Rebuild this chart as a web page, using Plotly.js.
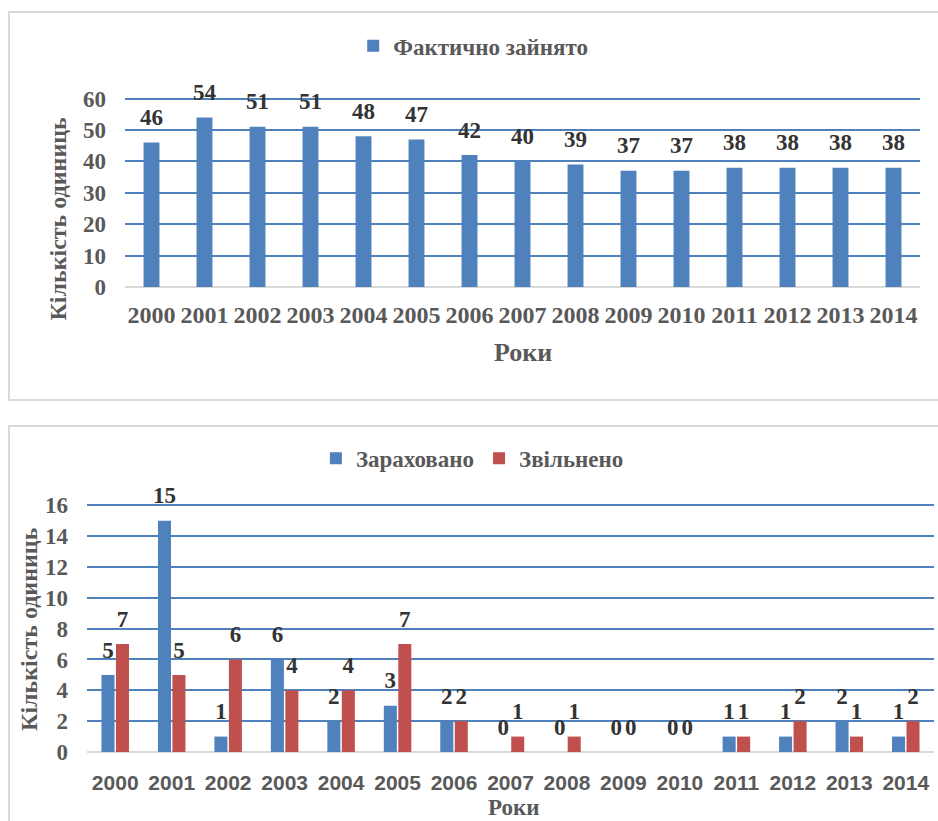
<!DOCTYPE html>
<html>
<head>
<meta charset="utf-8">
<script src="https://cdn.plot.ly/plotly-3.0.1.min.js"></script>
<style>
  html, body { margin: 0; padding: 0; background: #fff; width: 938px; height: 821px; overflow: hidden; }
  .frame { position: absolute; border: 2px solid #D9D9D9; box-sizing: border-box; }
  .plot { position: absolute; }
</style>
</head>
<body>
<div class="frame" style="left:8px; top:11px; width:960px; height:390px;"></div>
<div class="frame" style="left:8px; top:425px; width:960px; height:420px;"></div>
<div id="top" class="plot" style="left:8px; top:11px; width:940px; height:389px;"></div>
<div id="bottom" class="plot" style="left:8px; top:425px; width:940px; height:400px;"></div>
<script>
// ---- data ----
const years = ['2000','2001','2002','2003','2004','2005','2006','2007','2008','2009','2010','2011','2012','2013','2014'];
const occupied = [46, 54, 51, 51, 48, 47, 42, 40, 39, 37, 37, 38, 38, 38, 38];
const hired = [5, 15, 1, 6, 2, 3, 2, 0, 0, 0, 0, 1, 1, 2, 1];
const dismissed = [7, 5, 6, 4, 4, 7, 2, 1, 1, 0, 0, 1, 2, 1, 2];
const topSeriesName = 'Фактично зайнято';
const hiredName = 'Зараховано';
const dismissedName = 'Звільнено';
const yTitle = 'Кількість одиниць';
const xTitle = 'Роки';

// ---- styles ----
const SERIF = '"Liberation Serif", "Times New Roman", Times, serif';
const SANS = '"Liberation Sans", Arial, sans-serif';
const BLUE = '#4F81BD';
const RED = '#C0504D';
const GREY = '#595959';
const DARK = '#333333';
const catRange = [-0.5, years.length - 0.5];

function labelTrace(values, name) {
  return {
    type: 'scatter', x: years, y: values, name: name, offsetgroup: name,
    mode: 'markers+text', text: values.map(String), textposition: 'top center',
    marker: { size: 17, opacity: 0, color: 'rgba(0,0,0,0)' },
    textfont: { family: SERIF, size: 23, color: DARK, weight: 'bold' },
    cliponaxis: false, showlegend: false, hoverinfo: 'skip'
  };
}

// ---- top chart ----
const topLabels = labelTrace(occupied, 'lbl');
delete topLabels.offsetgroup;
const topData = [
  { type: 'bar', x: years, y: occupied, name: topSeriesName, marker: { color: BLUE } },
  topLabels
];
const topLayout = {
  width: 940, height: 389,
  margin: { l: 117, r: 28, t: 86, b: 113 },
  paper_bgcolor: 'rgba(0,0,0,0)', plot_bgcolor: 'rgba(0,0,0,0)',
  bargap: 0.7,
  showlegend: true,
  legend: { orientation: 'h', x: 0.438, xanchor: 'center', y: 1.27, yanchor: 'middle',
            font: { family: SERIF, size: 23, color: GREY, weight: 'bold' } },
  xaxis: { type: 'category', range: catRange, showgrid: false, zeroline: false, showline: false, ticks: '',
           ticklabelstandoff: 11,
           tickfont: { family: SERIF, size: 24, color: GREY, weight: 'bold' } },
  yaxis: { range: [0, 60.5], tickvals: [0, 10, 20, 30, 40, 50, 60], showgrid: true, gridcolor: BLUE, gridwidth: 2,
           zeroline: true, zerolinecolor: '#D9D9D9', zerolinewidth: 2, showline: false, ticks: '',
           ticklabelstandoff: 18,
           tickfont: { family: SERIF, size: 23, color: GREY, weight: 'bold' } },
  annotations: [
    { text: yTitle, xref: 'paper', yref: 'paper', x: -0.0843, y: 0.36, textangle: -90,
      showarrow: false, xanchor: 'center', yanchor: 'middle',
      font: { family: SERIF, size: 24, color: GREY, weight: 'bold' } },
    { text: xTitle, xref: 'paper', yref: 'paper', x: 0.5, y: -0.346,
      showarrow: false, xanchor: 'center', yanchor: 'middle',
      font: { family: SERIF, size: 26, color: GREY, weight: 'bold' } }
  ]
};
Plotly.newPlot('top', topData, topLayout, { staticPlot: true });

// ---- bottom chart ----
const bottomData = [
  { type: 'bar', x: years, y: hired, name: hiredName, offsetgroup: hiredName, marker: { color: BLUE } },
  { type: 'bar', x: years, y: dismissed, name: dismissedName, offsetgroup: dismissedName, marker: { color: RED } },
  labelTrace(hired, hiredName),
  labelTrace(dismissed, dismissedName)
];
const bottomLayout = {
  width: 940, height: 400,
  margin: { l: 79, r: 14, t: 78, b: 73 },
  paper_bgcolor: 'rgba(0,0,0,0)', plot_bgcolor: 'rgba(0,0,0,0)',
  barmode: 'group', bargap: 0.487, bargroupgap: 0.1,
  scattermode: 'group', scattergap: 0.487,
  showlegend: true,
  legend: { orientation: 'h', x: 0.455, xanchor: 'center', y: 1.18, yanchor: 'middle',
            font: { family: SERIF, size: 23, color: GREY, weight: 'bold' } },
  xaxis: { type: 'category', range: catRange, showgrid: false, zeroline: false, showline: false, ticks: '',
           ticklabelstandoff: 16,
           tickfont: { family: SANS, size: 21, color: GREY, weight: 'bold' } },
  yaxis: { range: [0, 16.15], tickvals: [0, 2, 4, 6, 8, 10, 12, 14, 16], showgrid: true, gridcolor: BLUE, gridwidth: 2,
           zeroline: true, zerolinecolor: '#D9D9D9', zerolinewidth: 2, showline: false, ticks: '',
           ticklabelstandoff: 18,
           tickfont: { family: SERIF, size: 23, color: GREY, weight: 'bold' } },
  annotations: [
    { text: yTitle, xref: 'paper', yref: 'paper', x: -0.0685, y: 0.494, textangle: -90,
      showarrow: false, xanchor: 'center', yanchor: 'middle',
      font: { family: SERIF, size: 24, color: GREY, weight: 'bold' } },
    { text: xTitle, xref: 'paper', yref: 'paper', x: 0.503, y: -0.2227,
      showarrow: false, xanchor: 'center', yanchor: 'middle',
      font: { family: SERIF, size: 23, color: GREY, weight: 'bold' } }
  ]
};
Plotly.newPlot('bottom', bottomData, bottomLayout, { staticPlot: true });
</script>
</body>
</html>
